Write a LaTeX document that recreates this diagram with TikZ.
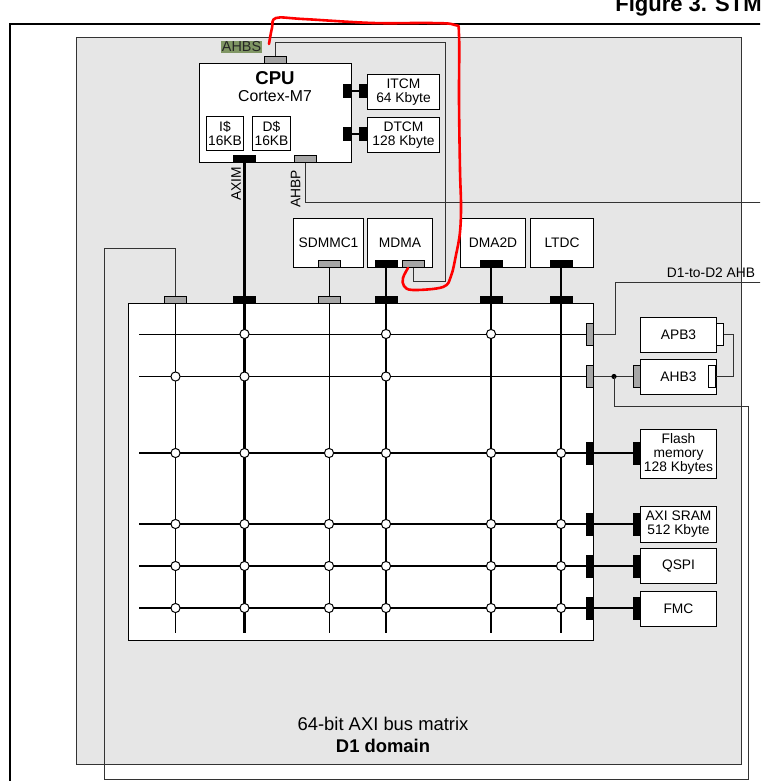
\documentclass[tikz,border=0pt]{standalone}
\usepackage{fontspec}
\setmainfont{Liberation Sans}
\definecolor{domaingray}{RGB}{230,230,230}
\definecolor{portgray}{RGB}{166,166,166}
\definecolor{hilite}{RGB}{128,150,100}
\newcommand{\lbl}{\fontsize{6.9}{7}\selectfont}

\begin{document}
\begin{tikzpicture}[x=0.5pt, y=-0.5pt,
  box/.style={draw, fill=white, line width=0.5pt, inner sep=0pt, align=center, font=\lbl, anchor=north west},
  bport/.style={draw, fill=black, line width=0.5pt, inner sep=0pt},
  gport/.style={draw, fill=portgray, line width=0.5pt, inner sep=0pt},
  wport/.style={draw, fill=white, line width=0.5pt, inner sep=0pt},
  hp/.style={minimum width=11pt, minimum height=3.5pt},
  vp/.style={minimum width=3.5pt, minimum height=11pt},
  tp/.style={minimum width=4pt, minimum height=6.5pt},
  thinbus/.style={line width=0.5pt},
  thickbus/.style={line width=1.05pt},
  link/.style={line width=0.5pt, draw=black!80},
  junction/.style={draw, fill=white, line width=0.5pt},
  annot/.style={draw=red, line width=1.3pt, line cap=round, line join=round}]

\clip (0,0) rectangle (760,781);

\node[anchor=base west, inner sep=0pt, font=\fontsize{11}{13}\selectfont\bfseries] (title) at (615,12) {Figure 3. STM32H7};
\draw[line width=1.1pt] (10,800) -- (10,24) -- (780,24);

% D1 domain
\node[draw=black!80, fill=domaingray, line width=0.5pt, inner sep=0pt, anchor=north west,
      minimum width=332.5pt, minimum height=363.5pt] (d1) at (76,37) {};
\node[anchor=base, font=\fontsize{9.2}{11}\selectfont] (bustext) at (383,730) {64-bit AXI bus matrix};
\node[anchor=base, font=\fontsize{9.2}{11}\selectfont\bfseries] (domtext) at (383,752) {D1 domain};

% CPU
\node[box, minimum width=76pt, minimum height=49.5pt] (cpu) at (199,63) {};
\node[anchor=base, font=\fontsize{9.3}{10}\selectfont\bfseries] (cpuname) at (275,85) {CPU};
\node[anchor=base, font=\fontsize{7.9}{9}\selectfont] (cpucore) at (275,102) {Cortex-M7};
\node[box, minimum width=18.5pt, minimum height=17pt] (icache) at (206,116) {I\$\\16KB};
\node[box, minimum width=19pt, minimum height=17pt] (dcache) at (252,116) {D\$\\16KB};

\node[box, minimum width=36pt, minimum height=17.5pt] (itcm) at (367,74) {ITCM\\64 Kbyte};
\node[box, minimum width=36pt, minimum height=17.5pt] (dtcm) at (367,117) {DTCM\\128 Kbyte};
\node[bport, tp] (cpuitcm) at (347,91) {};
\node[bport, tp] (itcmport) at (363,91) {};
\node[bport, tp] (cpudtcm) at (347,134) {};
\node[bport, tp] (dtcmport) at (363,134) {};
\draw[line width=0.8pt] (cpuitcm) -- (itcmport);
\draw[line width=0.8pt] (cpudtcm) -- (dtcmport);

\node[gport, hp] (ahbs) at (275,60) {};
\node[fill=hilite, text=black!85, inner sep=0.3pt, anchor=base, font=\fontsize{7.2}{8}\selectfont] (ahbslabel) at (241.5,52) {AHBS};
\node[bport, hp] (axim) at (244.5,158.5) {};
\node[gport, hp] (ahbp) at (305,158.5) {};
\node[rotate=90, font=\lbl] (aximlabel) at (236,184) {AXIM};
\node[rotate=90, font=\lbl] (ahbplabel) at (295.5,189) {AHBP};

% masters
\node[box, minimum width=35pt, minimum height=24.5pt] (sdmmc) at (293,218) {SDMMC1};
\node[box, minimum width=32.5pt, minimum height=24.5pt] (mdma) at (367,218) {MDMA};
\node[box, minimum width=32.5pt, minimum height=24.5pt] (dmaxd) at (460,218) {DMA2D};
\node[box, minimum width=31.5pt, minimum height=24.5pt] (ltdc) at (530,218) {LTDC};
\node[gport, hp] (sdmmcport) at (329,263.5) {};
\node[bport, hp] (mdmaport) at (386,263.5) {};
\node[gport, hp] (mdmaslave) at (413.5,263.5) {};
\node[bport, hp] (dmaxdport) at (491,263.5) {};
\node[bport, hp] (ltdcport) at (561,263.5) {};

% bus matrix
\node[draw, fill=white, line width=0.6pt, inner sep=0pt, anchor=north west,
      minimum width=232.5pt, minimum height=168.5pt] (axi) at (128,303) {};

\foreach \n/\x/\s in {a/175.5/gport, b/244.5/bport, c/329/gport, d/386/bport, e/491/bport, f/561/bport}
    \node[\s, hp] (mt\n) at (\x,299.5) {};

\foreach \n/\y/\s in {1/334/gport, 2/376.5/gport, 3/453/bport, 4/524/bport, 5/566/bport, 6/608/bport}
    \node[\s, vp] (mr\n) at (589.5,\y) {};

\foreach \n/\x/\w in {a/175.5/thinbus, b/244.5/thickbus, c/329/thinbus, d/386/thickbus, e/491/thickbus, f/561/thickbus}
    \draw[\w] (mt\n.south) -- (\x,633);

\foreach \n/\y/\w in {1/334/thinbus, 2/376.5/thinbus, 3/453/thickbus, 4/524/thickbus, 5/566/thickbus, 6/608/thickbus}
    \draw[\w] (139,\y) -- (mr\n.west);

\foreach \x/\y in {244.5/334, 386/334, 491/334, 175.5/376.5, 244.5/376.5, 386/376.5}
    \draw[junction] (\x,\y) circle[radius=2.3pt];
\foreach \y in {453,524,566,608}
{
    \foreach \x in {175.5,244.5,329,386,491,561}
        \draw[junction] (\x,\y) circle[radius=2.3pt];
}

\draw[thickbus] (axim.south) -- (mtb.north);
\draw[thinbus] (sdmmcport.south) -- (mtc.north);
\draw[thickbus] (mdmaport.south) -- (mtd.north);
\draw[thickbus] (dmaxdport.south) -- (mte.north);
\draw[thickbus] (ltdcport.south) -- (mtf.north);

% slaves
\node[box, minimum width=38pt, minimum height=17.5pt] (apb) at (640,317) {APB3};
\node[box, minimum width=38pt, minimum height=17.5pt] (ahb) at (640,359) {AHB3};
\node[box, minimum width=38pt, minimum height=24.5pt] (flash) at (640,429) {Flash\\memory\\128 Kbytes};
\node[box, minimum width=38pt, minimum height=18pt] (sram) at (640,506) {AXI SRAM\\512 Kbyte};
\node[box, minimum width=38pt, minimum height=17.5pt] (qspi) at (640,548) {QSPI};
\node[box, minimum width=38pt, minimum height=17.5pt] (fmc) at (640,591) {FMC};

\node[wport, vp] (apbport) at (719.5,334) {};
\node[wport, vp] (ahbport) at (712,376.5) {};
\node[gport, vp] (ahbin) at (636.5,376.5) {};
\node[bport, vp] (flashin) at (636.5,453) {};
\node[bport, vp] (sramin) at (636.5,524) {};
\node[bport, vp] (qspiin) at (636.5,566) {};
\node[bport, vp] (fmcin) at (636.5,608) {};

\draw[thickbus] (mr3.east) -- (flashin.west);
\draw[thickbus] (mr4.east) -- (sramin.west);
\draw[thickbus] (mr5.east) -- (qspiin.west);
\draw[thickbus] (mr6.east) -- (fmcin.west);

\coordinate (tap) at (614,376.5);
\coordinate (d2ahb) at (770,282.5);
\coordinate (d2ahbp) at (770,202.5);
\draw[link] (mr2.east) -- (ahbin.west);
\fill (tap) circle[radius=1.3pt];
\draw[link] (apbport.east) -- (733,334) -- (733,376.5) -- (ahbport.east);
\draw[link] (mr1.east) -- (615,334) -- (615,282.5) -- (d2ahb);
\node[anchor=base, font=\lbl] (d2label) at (711,277) {D1-to-D2 AHB};
\draw[link] (tap) -- (614,406) -- (748,406) -- (748,779) -- (104,779) -- (104,248) -| (mta.north);

% AHBS / AHBP
\draw[link] (ahbs.north) |- (445,43) -- (445,281) -| (mdmaslave.south);
\draw[link] (ahbp.south) |- (d2ahbp);

% red mark
\draw[annot] plot[smooth, tension=0.6] coordinates {(269,44) (272,28) (276,18) (303,19) (373,23) (430,23) (455,25) (459,35) (459,100) (460,170) (461,205) (460,232) (456,255) (451,276) (443,287) (413,290) (404,286) (403,278) (408,268)};

\end{tikzpicture}
\end{document}
